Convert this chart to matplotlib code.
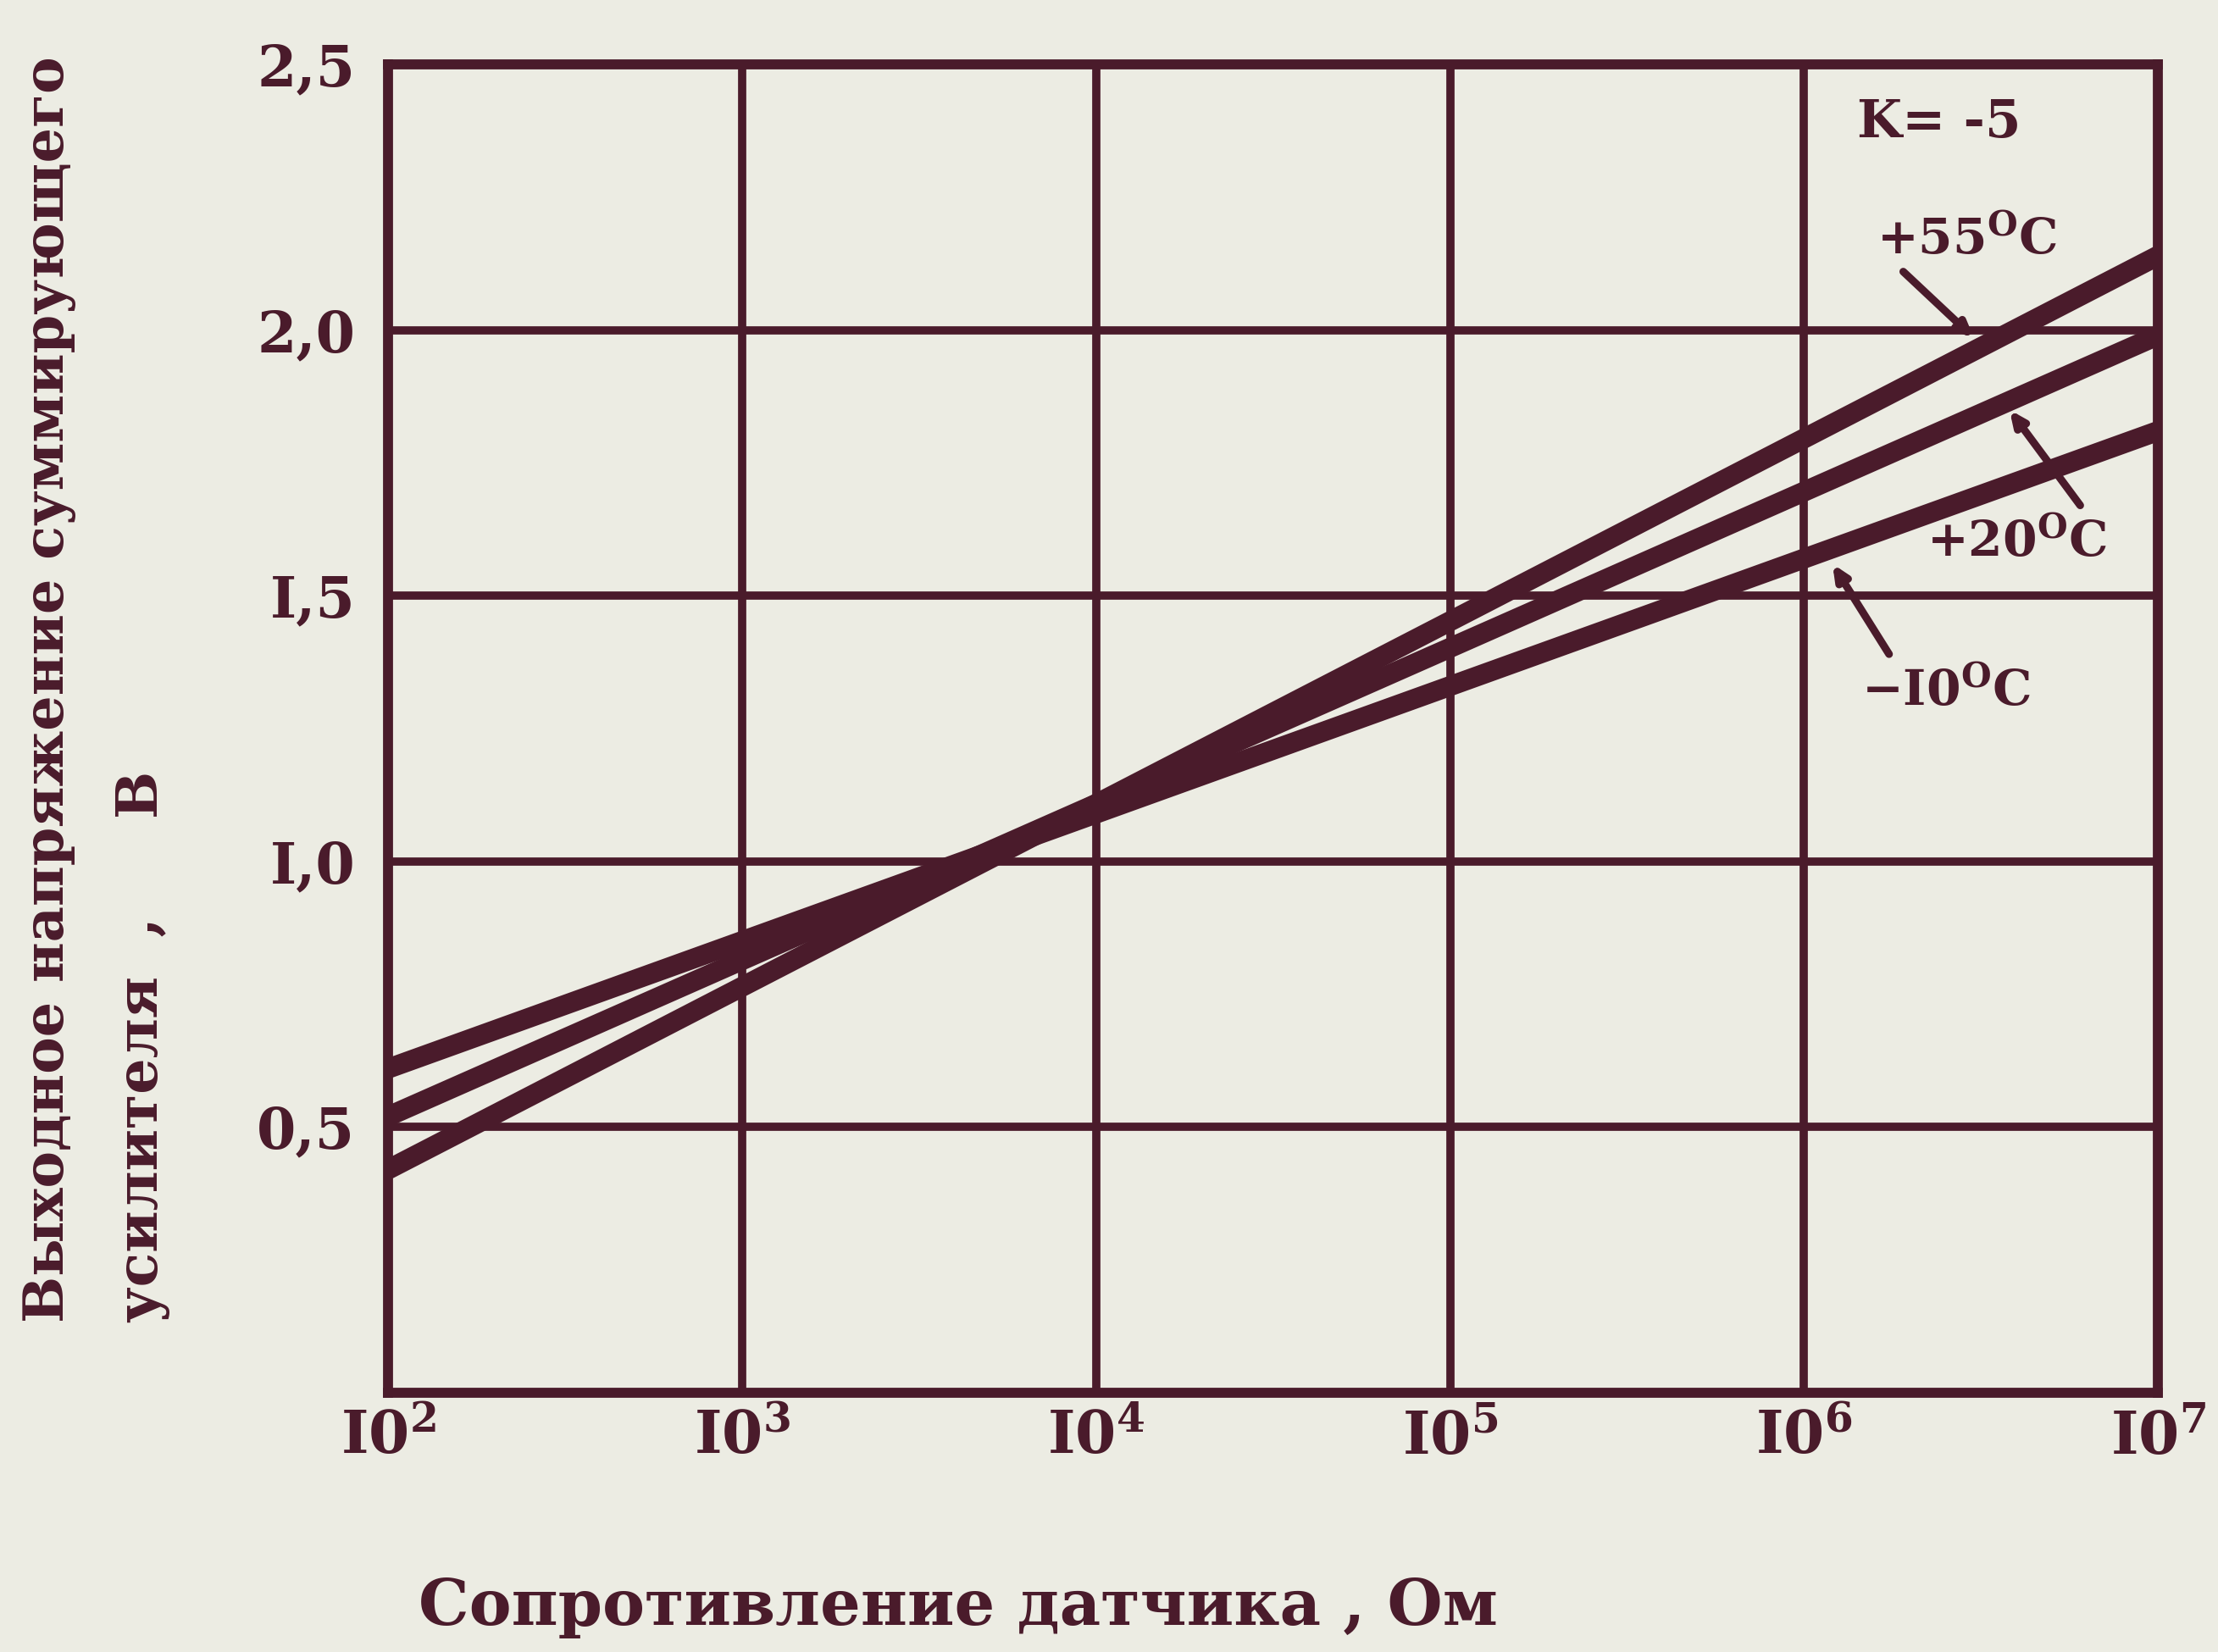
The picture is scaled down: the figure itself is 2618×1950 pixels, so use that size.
import matplotlib
matplotlib.use("Agg")
import matplotlib.pyplot as plt

# sensor resistance, Ohm (ends of the straight lines on log axis)
resistance = [1e2, 1e7]
# output voltage of the summing amplifier, V
u_minus10 = [0.61, 1.81]
u_plus20 = [0.52, 1.99]
u_plus55 = [0.42, 2.14]

xticks = [1e2, 1e3, 1e4, 1e5, 1e6, 1e7]
xtick_labels = ["I0$^{2}$", "I0$^{3}$", "I0$^{4}$", "I0$^{5}$", "I0$^{6}$", "I0$^{7}$"]
yticks = [0.5, 1.0, 1.5, 2.0, 2.5]
ytick_labels = ["0,5", "I,0", "I,5", "2,0", "2,5"]

ink = "#4a1b2b"
paper = "#ecece3"

plt.rcParams["font.family"] = ["DejaVu Serif"]
plt.rcParams["font.weight"] = "bold"
plt.rcParams["mathtext.fontset"] = "custom"
plt.rcParams["mathtext.rm"] = "DejaVu Serif:bold"
plt.rcParams["mathtext.it"] = "DejaVu Serif:bold"
plt.rcParams["mathtext.bf"] = "DejaVu Serif:bold"

fig = plt.figure(figsize=(26.18, 19.5), dpi=100, facecolor=paper)
ax = fig.add_axes([0.175, 0.157, 0.798, 0.804])
ax.set_facecolor(paper)

ax.set_xscale("log")
ax.set_xlim(1e2, 1e7)
ax.set_ylim(0, 2.5)

ax.set_xticks(xticks)
ax.set_xticklabels(xtick_labels)
ax.minorticks_off()
ax.set_yticks(yticks)
ax.set_yticklabels(ytick_labels)
ax.tick_params(axis="both", length=0, colors=ink)
ax.tick_params(axis="x", pad=14, labelsize=50)
ax.tick_params(axis="y", pad=28, labelsize=48)

ax.grid(True, color=ink, linewidth=7)
for s in ax.spines.values():
    s.set_color(ink)
    s.set_linewidth(8.5)

for u in (u_minus10, u_plus20, u_plus55):
    ax.plot(resistance, u, color=ink, linewidth=17, solid_capstyle="butt", zorder=3)

ax.text(10**6.38, 2.39, "K= -5", color=ink, fontsize=44, ha="center", va="center")

notes = [
    ("+55$^{\\mathrm{O}}$C", (10**6.46, 2.17), (10**6.28, 2.11), (10**6.48, 1.985)),
    ("+20$^{\\mathrm{O}}$C", (10**6.60, 1.60), (10**6.78, 1.67), (10**6.58, 1.85)),
    ("\u2212I0$^{\\mathrm{O}}$C", (10**6.40, 1.32), (10**6.24, 1.39), (10**6.08, 1.56)),
]
for label, txt_pos, tail, tip in notes:
    ax.text(txt_pos[0], txt_pos[1], label, color=ink, fontsize=42, ha="center", va="center")
    ax.annotate("", xy=tip, xytext=tail,
                arrowprops=dict(arrowstyle="-|>,head_length=1.0,head_width=0.45",
                                color=ink, linewidth=6.5, shrinkA=0, shrinkB=0))

fig.text(0.0223, 0.1995, "Выходное напряжение суммирующего", rotation=90,
         rotation_mode="anchor", ha="left", va="center", color=ink, fontsize=47)
fig.text(0.0645, 0.1995, "усилителя  ,     В", rotation=90,
         rotation_mode="anchor", ha="left", va="center", color=ink, fontsize=48)
fig.text(0.432, 0.027, "Сопротивление датчика , Ом", ha="center", va="center",
         color=ink, fontsize=54)

fig.savefig("out.png", dpi=100, facecolor=paper)
